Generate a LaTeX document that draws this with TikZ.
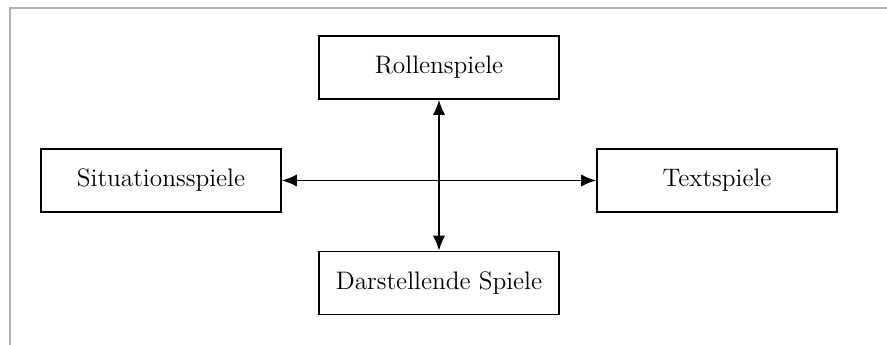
\documentclass[tikz,border=0pt]{standalone}
\usepackage{tikz}
\usetikzlibrary{arrows.meta,positioning}

\begin{document}
\begin{tikzpicture}[
    spielbox/.style={draw, line width=1pt, minimum width=4.8cm, minimum height=1.26cm, inner sep=0pt, font=\Large},
    pfeil/.style={line width=1pt, {Latex[length=8.5pt,width=7pt]}-{Latex[length=8.5pt,width=7pt]}}
]
    \useasboundingbox (0,0) rectangle (17.74,6.9);
    \draw [gray!60, line width=0.9pt] (0.2,0) -- (0.2,6.74) -- (17.74,6.74);

    \node [spielbox] (rollen) at (8.78, 5.55) {Rollenspiele};
    \node [spielbox] (darst) at (8.78, 1.24) {Darstellende Spiele};
    \node [spielbox] (situ) at (3.22, 3.29) {Situationsspiele};
    \node [spielbox] (text) at (14.34, 3.29) {Textspiele};

    \draw [pfeil] (situ) -- (text);
    \draw [pfeil] (rollen) -- (darst);
\end{tikzpicture}
\end{document}
